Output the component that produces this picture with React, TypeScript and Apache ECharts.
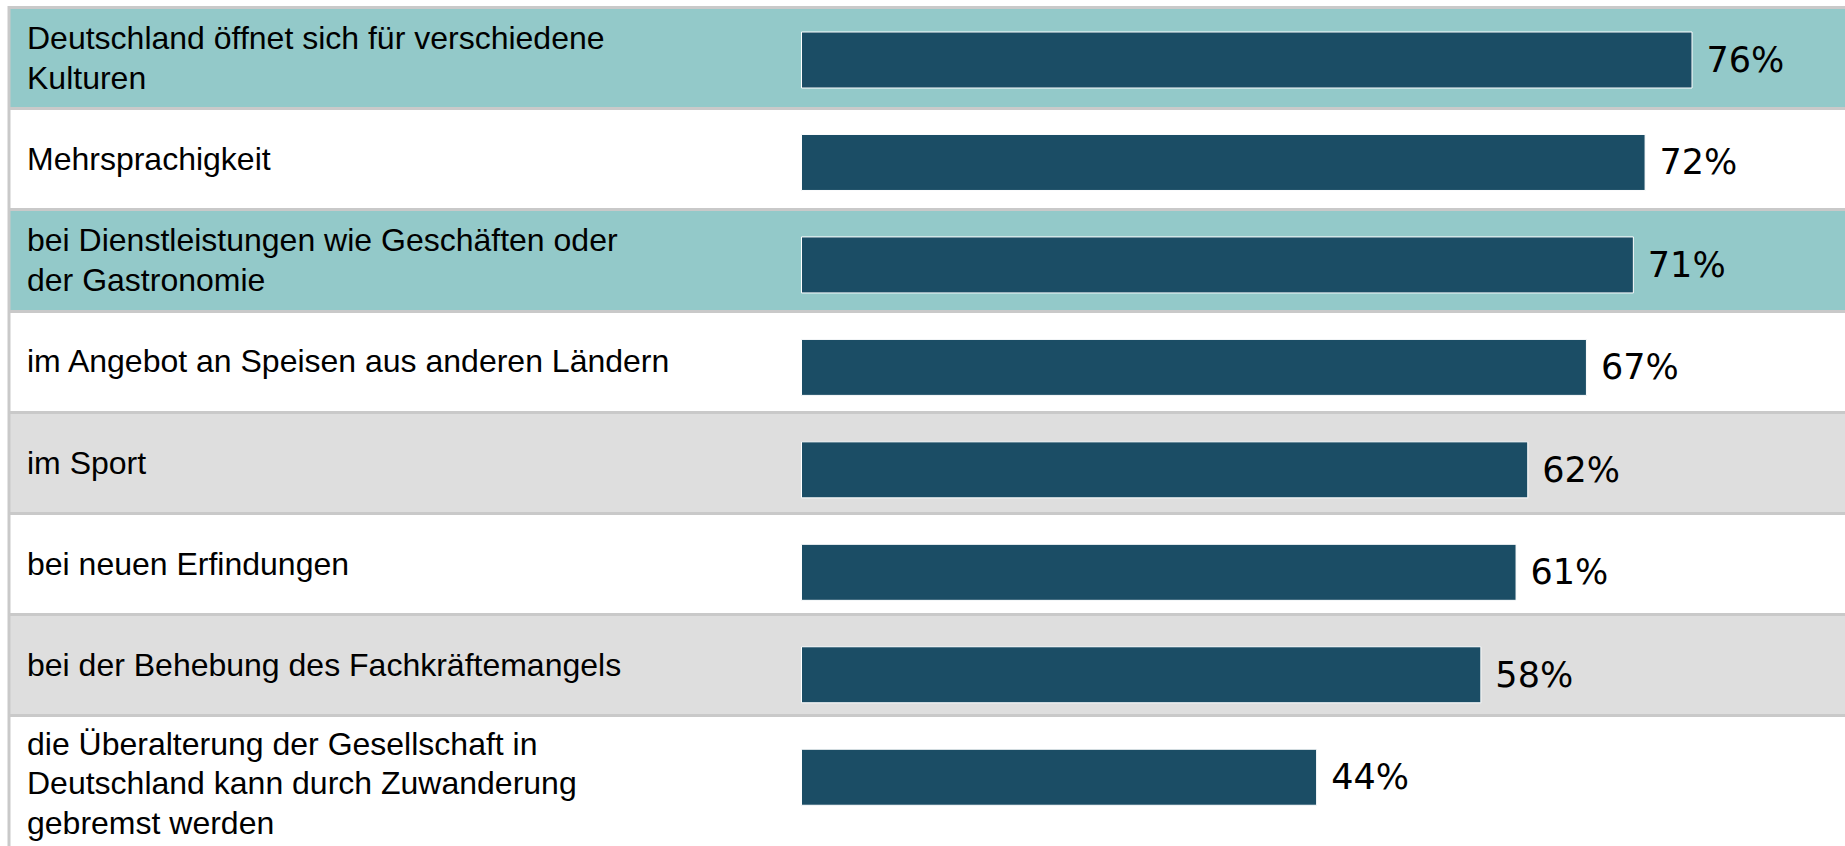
import React, { useEffect, useRef } from "react";
import * as echarts from "echarts";

const categories = [
  "Deutschland öffnet sich für verschiedene\nKulturen",
  "Mehrsprachigkeit",
  "bei Dienstleistungen wie Geschäften oder\nder Gastronomie",
  "im Angebot an Speisen aus anderen Ländern",
  "im Sport",
  "bei neuen Erfindungen",
  "bei der Behebung des Fachkräftemangels",
  "die Überalterung der Gesellschaft in\nDeutschland kann durch Zuwanderung\ngebremst werden",
];
const values = [76, 72, 71, 67, 62, 61, 58, 44];

const TEAL = "#93C9C9";
const WHITE = "#FFFFFF";
const GRAY = "#DEDEDE";
const rowColors = [TEAL, WHITE, TEAL, WHITE, GRAY, WHITE, GRAY, WHITE];
const LINE = "#C9C9C9";
const BAR = "#1B4D65";
const LABEL_FONT = "'Liberation Sans', Arial, sans-serif";

export default function App() {
  const ref = useRef<HTMLDivElement>(null);
  useEffect(() => {
    document.body.style.margin = "0";
    if (!ref.current) return;
    const chart = echarts.init(ref.current, null, { renderer: "svg" });
    const lastIndex = categories.length - 1;
    chart.setOption({
      animation: false,
      backgroundColor: "#FFFFFF",
      grid: [
        { left: 9, right: 0, top: 7.35, height: 809.4 },
        { left: 801, right: 0, top: 8.77, height: 819.7 },
      ],
      xAxis: [
        { gridIndex: 0, type: "value", min: 0, max: 1, show: false },
        { gridIndex: 1, type: "value", min: 0, max: 89, show: false },
      ],
      yAxis: [
        {
          gridIndex: 0,
          type: "category",
          inverse: true,
          data: categories,
          axisLine: { show: false },
          axisTick: { show: false },
          axisLabel: {
            inside: true,
            align: "left",
            margin: 18,
            fontSize: 32,
            lineHeight: 40,
            fontFamily: LABEL_FONT,
            color: "#000000",
            formatter: (v: string, i: number) =>
              i === lastIndex
                ? "{s| }\n" +
                  v
                    .split("\n")
                    .map((l) => "{n|" + l + "}")
                    .join("\n")
                : v,
            rich: {
              s: { fontSize: 8, lineHeight: 34, fontFamily: LABEL_FONT },
              n: {
                fontSize: 32,
                lineHeight: 39.5,
                fontFamily: LABEL_FONT,
                color: "#000000",
              },
            },
          },
          splitLine: {
            show: true,
            showMaxLine: false,
            lineStyle: { color: LINE, width: 3 },
          },
          splitArea: { show: true, areaStyle: { color: rowColors } },
        },
        {
          gridIndex: 1,
          type: "category",
          inverse: true,
          data: categories,
          show: false,
        },
      ],
      graphic: [
        {
          type: "rect",
          shape: { x: 7.5, y: 6, width: 3, height: 840 },
          style: { fill: LINE },
          z: 10,
        },
      ],
      series: [
        {
          type: "bar",
          xAxisIndex: 1,
          yAxisIndex: 1,
          data: values,
          barWidth: 57,
          itemStyle: { color: BAR, borderColor: "#FFFFFF", borderWidth: 1 },
          label: {
            show: true,
            position: "right",
            distance: 14,
            formatter: "{c}%",
            fontSize: 35,
            fontFamily: "'DejaVu Sans', Verdana, sans-serif",
            color: "#000000",
          },
        },
      ],
    });
    return () => chart.dispose();
  }, []);
  return <div ref={ref} style={{ width: 1845, height: 846 }} />;
}
